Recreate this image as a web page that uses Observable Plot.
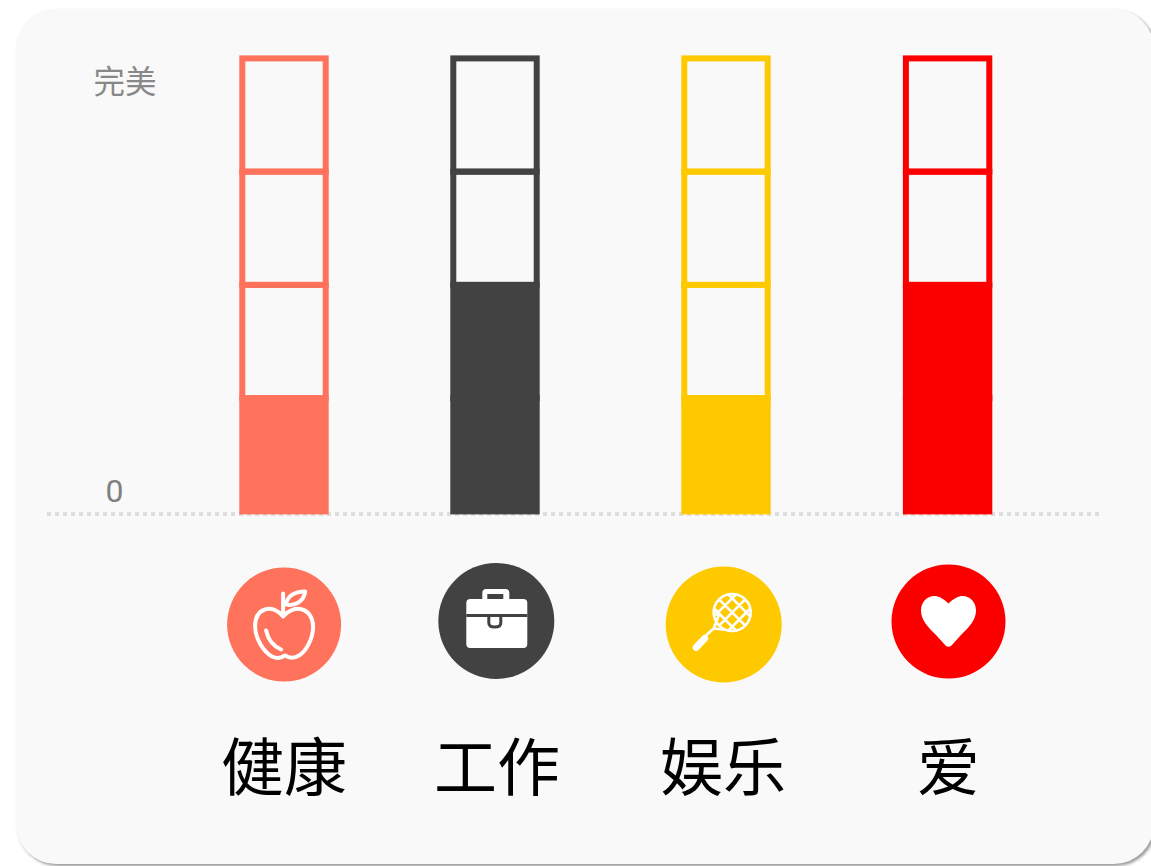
<!DOCTYPE html>
<html lang="zh">
<head>
<meta charset="utf-8">
<script src="https://cdn.jsdelivr.net/npm/d3@7"></script>
<script src="https://cdn.jsdelivr.net/npm/@observablehq/plot@0.6"></script>
<style>
  html, body { margin: 0; padding: 0; background: #fff; overflow: hidden; width: 1151px; height: 866px; }
  #card { position: absolute; left: 16px; top: 9px; width: 1138px; height: 855px; background: #f9f9f9;
          border-radius: 40px; box-shadow: 2px 2px 3px #9a9a9a; }
  #chart { position: absolute; left: 0; top: 0; }
</style>
</head>
<body>
<div id="card"></div>
<div id="chart"></div>
<script>
// Data
const categories = ["健康", "工作", "娱乐", "爱"];
const scores = [1, 2, 1, 2];
const colors = ["#ff725c", "#424242", "#ffc900", "#fc0000"];
const levels = [0, 1, 2, 3];
const axisTop = 4;
const axisTopLabel = "完美";
const axisZeroLabel = "0";

// Layout, in units of the two scales
const barX = [284, 495, 726, 947.6];
const barHalfWidth = 41.7;
const iconX = [283.6, 495.8, 723.2, 948];
const iconY = [-0.994, -0.963, -0.994, -0.968];
const iconR = [57, 58, 58, 57];
const labelX = [283.5, 496.5, 722.5, 948];
const labelY = -2.275;

const cells = categories.flatMap((name, i) => levels.map(level => ({
  x1: barX[i] - barHalfWidth,
  x2: barX[i] + barHalfWidth,
  y1: level,
  y2: level + 1,
  color: colors[i],
  filled: level < scores[i]
})));
const columns = categories.map((name, i) => ({
  name, color: colors[i], ix: iconX[i], iy: iconY[i], r: iconR[i], lx: labelX[i]
}));

// Icon glyphs as custom symbols, origin at the circle's centre
const appleOutline = { draw(c) {
  c.moveTo(-1, -8);
  c.bezierCurveTo(-6, -14, -13, -17, -19, -15);
  c.bezierCurveTo(-26, -13, -29, -6, -29, 2);
  c.bezierCurveTo(-29, 14, -20, 28, -12, 32);
  c.bezierCurveTo(-8, 34, -3, 34, 1, 31);
  c.bezierCurveTo(5, 34, 11, 34, 15, 31);
  c.bezierCurveTo(22, 27, 29, 14, 29, 2);
  c.bezierCurveTo(29, -6, 25, -13, 18, -15);
  c.bezierCurveTo(12, -17, 4, -14, -1, -8);
  c.closePath();
  c.moveTo(-1, -10); c.lineTo(-1, -31);
  c.moveTo(2, -20);
  c.bezierCurveTo(3, -28, 10, -33, 21, -33);
  c.bezierCurveTo(20, -24, 12, -18, 2, -20);
  c.closePath();
  c.moveTo(-18, 6);
  c.bezierCurveTo(-16, 16, -10, 22, -3, 25);
}};
function roundRect(c, x0, y0, x1, y1, r) {
  c.moveTo(x0 + r, y0);
  c.lineTo(x1 - r, y0); c.quadraticCurveTo(x1, y0, x1, y0 + r);
  c.lineTo(x1, y1 - r); c.quadraticCurveTo(x1, y1, x1 - r, y1);
  c.lineTo(x0 + r, y1); c.quadraticCurveTo(x0, y1, x0, y1 - r);
  c.lineTo(x0, y0 + r); c.quadraticCurveTo(x0, y0, x0 + r, y0);
  c.closePath();
}
const caseBody = { draw(c) {
  roundRect(c, -30, -22, 31, 27, 4);
  roundRect(c, -14, -32, 13, -18, 4);
}};
const caseDetail = { draw(c) {
  c.moveTo(-30, -5.5); c.lineTo(31, -5.5);
  c.moveTo(-7.5, -5);
  c.lineTo(-7.5, 2);
  c.quadraticCurveTo(-7.5, 6, -1.5, 6);
  c.quadraticCurveTo(4.5, 6, 4.5, 2);
  c.lineTo(4.5, -5);
  c.moveTo(-7.5, -25.5); c.lineTo(5.5, -25.5); c.lineTo(5.5, -23.5); c.lineTo(-7.5, -23.5); c.closePath();
}};
const racketFrame = { draw(c) {
  const cx = 8.5, cy = -12, r = 18.5;
  c.moveTo(cx + r, cy);
  c.arc(cx, cy, r, 0, Math.PI * 2);
  c.closePath();
  c.moveTo(-5, -9); c.lineTo(-10, 4); c.lineTo(3, 5.5);
  const s = Math.SQRT1_2;
  for (const d of [-10, 0, 10]) {
    const h = Math.sqrt(r * r - d * d);
    c.moveTo(cx + s * (h + d), cy + s * (h - d));
    c.lineTo(cx + s * (-h + d), cy + s * (-h - d));
    c.moveTo(cx + s * (h + d), cy - s * (h - d));
    c.lineTo(cx + s * (-h + d), cy - s * (-h - d));
  }
  c.moveTo(-10, 4); c.lineTo(-20, 13);
}};
const racketGrip = { draw(c) {
  c.moveTo(-19, 14); c.lineTo(-27.5, 23);
}};
const heart = { draw(c) {
  c.moveTo(0, -18);
  c.bezierCurveTo(-5, -23, -10, -25.5, -14, -25.5);
  c.bezierCurveTo(-22, -25.5, -27.5, -19, -27.5, -11);
  c.bezierCurveTo(-27.5, -1, -20, 6, -12, 14);
  c.lineTo(-3, 24);
  c.quadraticCurveTo(0, 26.5, 3, 24);
  c.lineTo(12, 14);
  c.bezierCurveTo(20, 6, 27.5, -1, 27.5, -11);
  c.bezierCurveTo(27.5, -19, 22, -25.5, 14, -25.5);
  c.bezierCurveTo(10, -25.5, 5, -23, 0, -18);
  c.closePath();
}};

const cjk = "'Noto Sans CJK SC', sans-serif";
const icon = (i, symbol, opts) => Plot.dot([columns[i]], {
  x: "ix", y: "iy", symbol, r: 3, ...opts
});

const chart = Plot.plot({
  width: 1151,
  height: 866,
  margin: 0,
  style: { background: "transparent", fontFamily: cjk },
  x: { domain: [0, 1151], range: [0, 1151], axis: null },
  y: { domain: [0, axisTop], range: [511.4, 58.4], axis: null },
  r: { type: "identity" },
  marks: [
    Plot.ruleY([0], {
      x1: 47, x2: 1100, dy: 2, stroke: "#dddddd", strokeWidth: 4, strokeDasharray: "4 4"
    }),
    Plot.rect(cells, {
      x1: "x1", x2: "x2", y1: "y1", y2: "y2", stroke: "color", strokeWidth: 6,
      fill: d => d.filled ? d.color : "none", inset: 0
    }),
    Plot.text([axisTopLabel], {
      x: 124.5, y: [axisTop], text: d => d, dy: 24.5, fontSize: 31.5, fill: "#888888",
      fontFamily: cjk
    }),
    Plot.text([axisZeroLabel], {
      x: 114, y: [0], text: d => d, dy: -20, fontSize: 32, fill: "#808080",
      fontFamily: "Roboto, sans-serif"
    }),
    Plot.dot(columns, { x: "ix", y: "iy", r: "r", fill: "color", stroke: "none" }),
    icon(0, appleOutline, { fill: "none", stroke: "white", strokeWidth: 4, strokeLinecap: "round", strokeLinejoin: "round" }),
    icon(1, caseBody, { fill: "white", stroke: "none" }),
    icon(1, caseDetail, { fill: "none", stroke: colors[1], strokeWidth: 3 }),
    icon(2, racketFrame, { fill: "none", stroke: "white", strokeWidth: 2.6, strokeLinecap: "round" }),
    icon(2, racketGrip, { fill: "none", stroke: "white", strokeWidth: 7, strokeLinecap: "round" }),
    icon(3, heart, { fill: "white", stroke: "none" }),
    Plot.text(columns, {
      x: "lx", y: () => labelY, text: "name", fontSize: 63, fill: "#000000", fontFamily: cjk
    })
  ]
});
document.getElementById("chart").appendChild(chart);
</script>
</body>
</html>
